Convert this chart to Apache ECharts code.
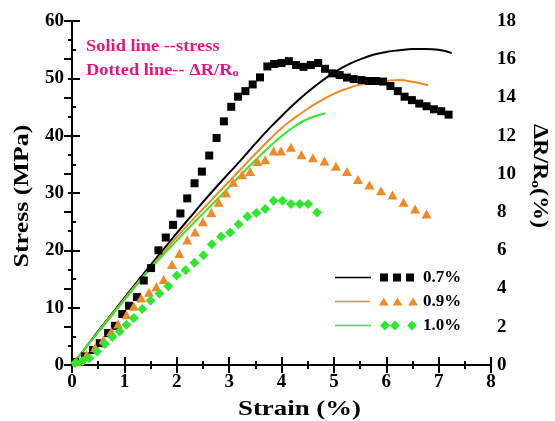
<!DOCTYPE html>
<html>
<head>
<meta charset="utf-8">
<script src="https://cdn.jsdelivr.net/npm/echarts@6/dist/echarts.min.js"></script>
<style>
  html, body { margin: 0; padding: 0; background: #fff; }
  #chart { width: 555px; height: 421px; }
</style>
</head>
<body>
<div id="chart"></div>
<script>
// Axis ranges and tick steps
const strainTicks = [0, 8, 1];
const stressTicks = [0, 60, 10];
const resistTicks = [0, 18, 2];

// Legend entries (pre-strain level)
const groups = ['0.7%', '0.9%', '1.0%'];

// Stress–strain curves (solid lines)
const strain07 = [0,0.25,0.5,0.75,1,1.25,1.5,1.75,2,2.25,2.5,2.75,3,3.25,3.5,3.75,4,4.25,4.5,4.75,5,5.25,5.5,5.75,6,6.25,6.5,6.75,7,7.25];
const stress07 = [0,2.9,5.9,8.8,11.7,14.6,17.4,20.2,23.0,25.7,28.4,31.0,33.5,36.0,38.6,41.1,43.4,45.6,47.6,49.4,51.0,52.3,53.3,54.1,54.6,54.9,55.1,55.1,55.0,54.4];

const strain09 = [0,0.25,0.5,0.75,1,1.25,1.5,1.75,2,2.25,2.5,2.75,3,3.25,3.5,3.75,4,4.25,4.5,4.75,5,5.25,5.5,5.75,6,6.25,6.5,6.8];
const stress09 = [0,2.9,5.8,8.7,11.5,14.3,17.0,19.7,22.3,24.8,27.2,29.6,32.0,34.4,36.8,39.1,41.3,43.1,44.7,46.1,47.3,48.2,48.9,49.4,49.6,49.7,49.4,48.8];

const strain10 = [0,0.25,0.5,0.75,1,1.25,1.5,1.75,2,2.25,2.5,2.75,3,3.25,3.5,3.75,4,4.25,4.5,4.84];
const stress10 = [0,2.85,5.7,8.5,11.3,14.1,16.8,19.3,21.7,24.1,26.4,28.7,31.0,33.4,35.7,37.9,39.9,41.6,42.9,43.9];

// Resistance change ΔR/R0 (dotted markers)
const rStrain07 = [0.06,0.25,0.40,0.53,0.69,0.82,0.96,1.09,1.24,1.37,1.51,1.65,1.79,1.93,2.07,2.20,2.34,2.48,2.62,2.76,2.90,3.04,3.17,3.31,3.45,3.59,3.73,3.86,4.00,4.14,4.28,4.42,4.56,4.70,4.83,4.97,5.11,5.25,5.38,5.53,5.67,5.80,5.94,6.08,6.22,6.35,6.49,6.63,6.77,6.91,7.05,7.19];
const rValue07 = [0.16,0.45,0.79,1.14,1.67,2.05,2.67,3.10,3.56,4.42,5.07,6.00,6.67,7.33,7.93,8.72,9.51,10.12,10.96,11.88,12.75,13.51,14.04,14.33,14.68,15.05,15.62,15.75,15.80,15.90,15.70,15.60,15.70,15.80,15.50,15.26,15.17,15.04,14.96,14.91,14.86,14.86,14.83,14.60,14.33,14.04,13.86,13.68,13.54,13.38,13.28,13.10];

const rStrain09 = [0.09,0.28,0.44,0.60,0.75,0.88,1.04,1.18,1.32,1.47,1.61,1.75,1.91,2.05,2.20,2.35,2.50,2.66,2.80,2.94,3.08,3.25,3.40,3.54,3.69,3.85,3.99,4.18,4.38,4.60,4.82,5.04,5.25,5.46,5.68,5.90,6.12,6.33,6.55,6.77];
const rValue09 = [0.17,0.53,0.91,1.32,1.75,2.14,2.63,3.07,3.51,3.81,4.09,4.47,5.26,5.84,6.54,6.96,7.49,7.98,8.51,9.00,9.56,9.95,10.12,10.65,10.74,11.2,11.2,11.4,11.0,10.84,10.67,10.4,10.12,9.7,9.42,9.12,8.89,8.51,8.16,7.9];

const rStrain10 = [0.06,0.20,0.33,0.48,0.63,0.77,0.91,1.04,1.18,1.34,1.50,1.67,1.84,2.00,2.17,2.34,2.51,2.67,2.85,3.02,3.18,3.35,3.52,3.69,3.85,4.02,4.18,4.35,4.51,4.68];
const rValue10 = [0.09,0.20,0.35,0.70,1.10,1.46,1.75,2.10,2.46,2.93,3.37,3.74,4.12,4.68,4.96,5.35,5.74,6.32,6.72,6.93,7.37,7.77,7.95,8.16,8.60,8.60,8.42,8.42,8.42,7.98];

const colors = ['#000000', '#f08a24', '#2ee82e'];
const serif = '"Liberation Serif", "Times New Roman", serif';
const pink = '#e2187f';

const zip = (xs, ys) => xs.map((x, i) => [x, ys[i]]);

// Legend icons: short solid line followed by three markers (83 x 10 box)
const iconSquare = 'path://M83,10M0,0' +
  'M0,4.2L36,4.2L36,5.8L0,5.8Z' +
  'M45,1L53,1L53,9L45,9Z M58,1L66,1L66,9L58,9Z M71,1L79,1L79,9L71,9Z';
const iconTri = 'path://M83,10M0,0' +
  'M0,4.2L36,4.2L36,5.8L0,5.8Z' +
  'M45,9L50,1L55,9Z M59,9L64,1L69,9Z M75,9L80,1L85,9Z';
const iconDia = 'path://M83,10M0,0' +
  'M0,4.2L36,4.2L36,5.8L0,5.8Z' +
  'M50,0L55,5L50,10L45,5Z M60,0L65,5L60,10L55,5Z M77,0L82,5L77,10L72,5Z';
const icons = [iconSquare, iconTri, iconDia];

const chart = echarts.init(document.getElementById('chart'), null, { renderer: 'canvas' });

const axisLineStyle = { lineStyle: { color: '#000', width: 2 } };
const labelStyle = { color: '#000', fontFamily: serif, fontWeight: 'bold', fontSize: 19 };

const option = {
  backgroundColor: '#fff',
  animation: false,
  grid: { left: 72, right: 64, top: 21, bottom: 56, containLabel: false },
  legend: {
    orient: 'vertical',
    left: 330,
    top: 264,
    itemWidth: 83,
    itemHeight: 10,
    itemGap: 7,
    symbolKeepAspect: true,
    textStyle: { color: '#000', fontFamily: serif, fontWeight: 'bold', fontSize: 17 },
    itemStyle: { borderWidth: 0 },
    data: groups.map((g, i) => ({ name: g, icon: icons[i], itemStyle: { color: colors[i] } }))
  },
  xAxis: [
    {
      type: 'value', position: 'bottom',
      min: strainTicks[0], max: strainTicks[1], interval: strainTicks[2],
      axisLine: axisLineStyle,
      axisTick: { inside: true, length: 8, lineStyle: { color: '#000', width: 2 } },
      minorTick: { show: true, splitNumber: 2, length: 4, lineStyle: { color: '#000', width: 2 } },
      splitLine: { show: false },
      axisLabel: Object.assign({ margin: 8 }, labelStyle)
    },
    {
      type: 'value', position: 'top',
      min: strainTicks[0], max: strainTicks[1], interval: strainTicks[2],
      axisLine: axisLineStyle,
      axisTick: { inside: true, length: 8, lineStyle: { color: '#000', width: 2 } },
      minorTick: { show: true, splitNumber: 2, length: 4, lineStyle: { color: '#000', width: 2 } },
      splitLine: { show: false },
      axisLabel: { show: false }
    }
  ],
  yAxis: [
    {
      type: 'value', position: 'left',
      min: stressTicks[0], max: stressTicks[1], interval: stressTicks[2],
      axisLine: axisLineStyle,
      axisTick: { inside: true, length: 8, lineStyle: { color: '#000', width: 2 } },
      minorTick: { show: true, splitNumber: 2, length: 4, lineStyle: { color: '#000', width: 2 } },
      splitLine: { show: false },
      axisLabel: Object.assign({ margin: 8 }, labelStyle)
    },
    {
      type: 'value', position: 'right',
      min: resistTicks[0], max: resistTicks[1], interval: resistTicks[2],
      axisLine: axisLineStyle,
      axisTick: { inside: true, length: 8, lineStyle: { color: '#000', width: 2 } },
      minorTick: { show: true, splitNumber: 2, length: 4, lineStyle: { color: '#000', width: 2 } },
      splitLine: { show: false },
      axisLabel: Object.assign({ margin: 6 }, labelStyle)
    }
  ],
  graphic: [
    {
      type: 'text', x: 22, y: 196, rotation: Math.PI / 2, scaleX: 1.18,
      style: { text: 'Stress (MPa)', font: 'bold 22px ' + serif, fill: '#000',
               align: 'center', verticalAlign: 'middle', textAlign: 'center', textVerticalAlign: 'middle' }
    },
    {
      type: 'text', x: 238, y: 409, scaleX: 1.22,
      style: { text: 'Strain (%)', font: 'bold 22px ' + serif, fill: '#000',
               align: 'left', verticalAlign: 'middle', textAlign: 'left', textVerticalAlign: 'middle' }
    },
    {
      type: 'text', x: 539, y: 176, rotation: -Math.PI / 2, scaleX: 1.2,
      style: {
        text: '{m|ΔR/R}{s|o}{m|(%)}', fill: '#000',
        align: 'center', verticalAlign: 'middle', textAlign: 'center', textVerticalAlign: 'middle',
        rich: {
          m: { fontFamily: serif, fontWeight: 'bold', fontSize: 20, fill: '#000', color: '#000' },
          s: { fontFamily: serif, fontWeight: 'bold', fontSize: 13, fill: '#000', color: '#000', verticalAlign: 'bottom' }
        }
      }
    },
    {
      type: 'text', x: 86, y: 47, scaleX: 1.15,
      style: { text: 'Solid line --stress', font: 'bold 16px ' + serif, fill: pink,
               align: 'left', verticalAlign: 'middle', textAlign: 'left', textVerticalAlign: 'middle' }
    },
    {
      type: 'text', x: 86, y: 71, scaleX: 1.15,
      style: {
        text: '{m|Dotted line-- ΔR/R}{s|o}', fill: pink,
        align: 'left', verticalAlign: 'middle', textAlign: 'left', textVerticalAlign: 'middle',
        rich: {
          m: { fontFamily: serif, fontWeight: 'bold', fontSize: 16, fill: pink, color: pink },
          s: { fontFamily: serif, fontWeight: 'bold', fontSize: 11, fill: pink, color: pink, verticalAlign: 'bottom' }
        }
      }
    }
  ],
  series: [
    { name: groups[0], type: 'line', xAxisIndex: 0, yAxisIndex: 0, data: zip(strain07, stress07),
      smooth: true, showSymbol: false, lineStyle: { color: colors[0], width: 2 }, itemStyle: { color: colors[0] }, z: 2 },
    { name: groups[1], type: 'line', xAxisIndex: 0, yAxisIndex: 0, data: zip(strain09, stress09),
      smooth: true, showSymbol: false, lineStyle: { color: colors[1], width: 2 }, itemStyle: { color: colors[1] }, z: 2 },
    { name: groups[2], type: 'line', xAxisIndex: 0, yAxisIndex: 0, data: zip(strain10, stress10),
      smooth: true, showSymbol: false, lineStyle: { color: colors[2], width: 2 }, itemStyle: { color: colors[2] }, z: 2 },
    { name: groups[0], type: 'scatter', xAxisIndex: 0, yAxisIndex: 1, data: zip(rStrain07, rValue07),
      symbol: 'rect', symbolSize: 8, itemStyle: { color: colors[0], opacity: 1 }, z: 3 },
    { name: groups[1], type: 'scatter', xAxisIndex: 0, yAxisIndex: 1, data: zip(rStrain09, rValue09),
      symbol: 'triangle', symbolSize: [10, 9], itemStyle: { color: colors[1], opacity: 1 }, z: 3 },
    { name: groups[2], type: 'scatter', xAxisIndex: 0, yAxisIndex: 1, data: zip(rStrain10, rValue10),
      symbol: 'diamond', symbolSize: 10, itemStyle: { color: colors[2], opacity: 1 }, z: 3 }
  ]
};

chart.setOption(option);
</script>
</body>
</html>
